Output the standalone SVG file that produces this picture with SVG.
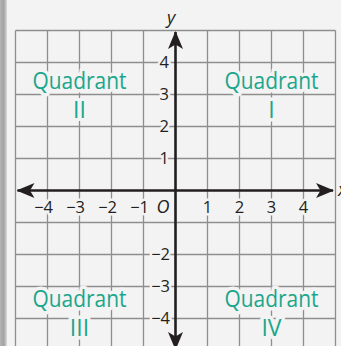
<svg xmlns="http://www.w3.org/2000/svg" width="341" height="346" viewBox="0 0 341 346">
  <defs>
    <linearGradient id="edge" x1="0" y1="0" x2="1" y2="0">
      <stop offset="0" stop-color="#b4b4b4"/>
      <stop offset="0.55" stop-color="#a2a2a2"/>
      <stop offset="1" stop-color="#dcdcdc"/>
    </linearGradient>
    <marker id="arrow" viewBox="0 0 18 15" refX="17" refY="7.5" markerWidth="18" markerHeight="15" markerUnits="userSpaceOnUse" orient="auto-start-reverse">
      <path d="M0,0 L18,7.5 L0,15 L4.5,7.5 Z" fill="#231f20"/>
    </marker>
  </defs>
  <style>
    .grid { stroke: #8e8e8e; stroke-width: 1.3; fill: none; }
    .axis { stroke: #231f20; stroke-width: 2.6; fill: none; }
    .tick { font-family: "Open Sans", "Liberation Sans", sans-serif; font-size: 16.5px; fill: #231f20; stroke: #f3f3f3; stroke-width: 5; paint-order: stroke; stroke-linejoin: round; }
    .var { font-family: "Open Sans", "Liberation Sans", sans-serif; font-style: italic; font-size: 18px; fill: #231f20; }
    .quad { font-family: "Open Sans", "Liberation Sans", sans-serif; font-size: 23px; fill: #1ba68b; text-anchor: middle; stroke: #f3f3f3; stroke-width: 7; paint-order: stroke; stroke-linejoin: round; }
  </style>

  <rect x="0" y="0" width="341" height="346" fill="#f3f3f3"/>
  <rect x="0" y="0" width="7" height="346" fill="url(#edge)"/>

  <g id="grid" class="grid">
    <path d="M15.5,30.5 V346 M47.5,30.5 V346 M79.5,30.5 V346 M111.5,30.5 V346 M143.5,30.5 V346 M207.5,30.5 V346 M239.5,30.5 V346 M271.5,30.5 V346 M303.5,30.5 V346 M335.5,30.5 V346"/>
    <path d="M15.5,30.5 H335.5 M15.5,62.5 H335.5 M15.5,94.5 H335.5 M15.5,126.5 H335.5 M15.5,158.5 H335.5 M15.5,222.5 H335.5 M15.5,254.5 H335.5 M15.5,286.5 H335.5 M15.5,318.5 H335.5"/>
  </g>

  <g id="quadrant-II"><text class="quad" x="79.5" y="88.5" textLength="94" lengthAdjust="spacingAndGlyphs">Quadrant</text><text class="quad" x="79.5" y="118">II</text></g>
  <g id="quadrant-I"><text class="quad" x="271.5" y="88.5" textLength="94" lengthAdjust="spacingAndGlyphs">Quadrant</text><text class="quad" x="271.5" y="118">I</text></g>
  <g id="quadrant-III"><text class="quad" x="79.5" y="306.5" textLength="94" lengthAdjust="spacingAndGlyphs">Quadrant</text><text class="quad" x="79.5" y="335.5">III</text></g>
  <g id="quadrant-IV"><text class="quad" x="271.5" y="306.5" textLength="94" lengthAdjust="spacingAndGlyphs">Quadrant</text><text class="quad" x="271.5" y="335.5">IV</text></g>

  <g id="x-labels" class="tick">
    <text x="53" y="213" text-anchor="end">−4</text>
    <text x="85" y="213" text-anchor="end">−3</text>
    <text x="117" y="213" text-anchor="end">−2</text>
    <text x="149" y="213" text-anchor="end">−1</text>
    <text x="207.5" y="213" text-anchor="middle">1</text>
    <text x="239.5" y="213" text-anchor="middle">2</text>
    <text x="271.5" y="213" text-anchor="middle">3</text>
    <text x="303.5" y="213" text-anchor="middle">4</text>
  </g>
  <g id="y-labels" class="tick">
    <text x="169" y="68" text-anchor="end">4</text>
    <text x="169" y="100" text-anchor="end">3</text>
    <text x="169" y="132" text-anchor="end">2</text>
    <text x="169" y="164" text-anchor="end">1</text>
    <text x="170" y="260" text-anchor="end">−2</text>
    <text x="170" y="292" text-anchor="end">−3</text>
    <text x="170" y="323.5" text-anchor="end">−4</text>
  </g>
  <g id="origin"><text class="var" x="156.5" y="213" style="font-size:18px">O</text></g>

  <g id="connectors">
    <line class="axis" x1="17.5" y1="190.5" x2="333" y2="190.5" marker-start="url(#arrow)" marker-end="url(#arrow)"/>
    <line class="axis" x1="175.5" y1="32" x2="175.5" y2="349" marker-start="url(#arrow)" marker-end="url(#arrow)"/>
  </g>

  <g id="axis-labels">
    <text class="var" x="167" y="24">y</text>
    <text class="var" x="338" y="196">x</text>
  </g>
</svg>
